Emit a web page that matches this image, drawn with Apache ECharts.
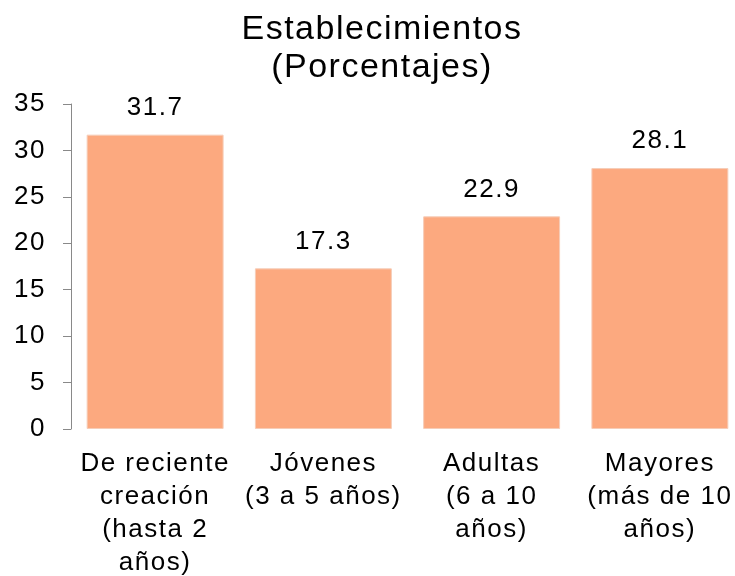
<!DOCTYPE html>
<html><head><meta charset="utf-8">
<script src="https://cdn.jsdelivr.net/npm/echarts@6/dist/echarts.min.js"></script>
<style>html,body{margin:0;padding:0;background:#fff}#c{width:735px;height:576px}</style>
</head><body><div id="c"></div>
<script>
const categories = ["De reciente\ncreación\n(hasta 2\naños)", "Jóvenes\n(3 a 5 años)", "Adultas\n(6 a 10\naños)", "Mayores\n(más de 10\naños)"];
const values = [31.7, 17.3, 22.9, 28.1];
const titleText = "Establecimientos\n(Porcentajes)";

// the reference text is set with a slightly wider tracking
(function () {
  const proto = CanvasRenderingContext2D.prototype;
  ['fillText', 'strokeText', 'measureText'].forEach(function (fn) {
    const orig = proto[fn];
    proto[fn] = function () {
      if ('letterSpacing' in this) this.letterSpacing = '1.5px';
      return orig.apply(this, arguments);
    };
  });
})();

const chart = echarts.init(document.getElementById('c'), null, {renderer: 'canvas'});
const font = 'Liberation Sans, Arial, sans-serif';
chart.setOption({
  animation: false,
  title: {text: titleText, left: 377, top: 6, textAlign: 'center',
    textStyle: {fontFamily: font, fontSize: 34, fontWeight: 'normal', color: '#000', lineHeight: 38}},
  grid: {left: 71, right: -9, top: 104, bottom: 147, containLabel: false, outerBoundsMode: 'none'},
  xAxis: {type: 'category', data: categories,
    axisLine: {show: false}, axisTick: {show: false},
    axisLabel: {fontFamily: font, fontSize: 26, color: '#000', lineHeight: 33, margin: 18, interval: 0}},
  yAxis: {type: 'value', min: 0, max: 35, interval: 5,
    axisLine: {show: true, lineStyle: {color: '#898989', width: 1}},
    axisTick: {show: true, length: 8, lineStyle: {color: '#898989'}},
    splitLine: {show: false},
    axisLabel: {fontFamily: font, fontSize: 26, color: '#000', margin: 25}},
  series: [{type: 'bar', data: values, barCategoryGap: '18.6%',
    itemStyle: {color: '#FCA97F', borderColor: '#F6CDB8', borderWidth: 1},
    label: {show: true, position: 'top', distance: 13, fontFamily: font, fontSize: 26, color: '#000',
      formatter: p => p.value.toFixed(1)}}]
});
</script></body></html>
